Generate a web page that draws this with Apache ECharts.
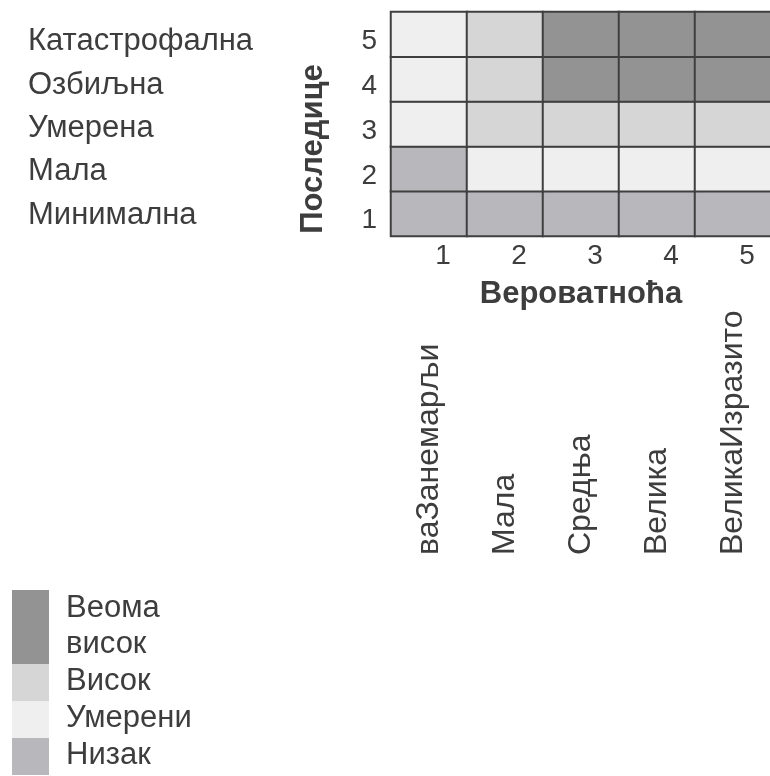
<!DOCTYPE html>
<html><head><meta charset="utf-8">
<script src="https://cdn.jsdelivr.net/npm/echarts@6/dist/echarts.min.js"></script>
<style>html,body{margin:0;padding:0;background:#fff}#c{width:770px;height:776px}</style>
</head><body><div id="c"></div>
<script>
const probability = ['1', '2', '3', '4', '5'];
const consequence = ['1', '2', '3', '4', '5'];
const consequenceNames = ['Минимална', 'Мала', 'Умерена', 'Озбиљна', 'Катастрофална'];
const probabilityNames = ['ваЗанемарљи', 'Мала', 'Средња', 'Велика', 'ВеликаИзразито'];
const levels = ['Низак', 'Умерени', 'Висок', 'Веома висок'];
const levelColors = ['#b8b7bc', '#efefef', '#d6d6d6', '#939393'];
// risk level per cell (index into levels), consequence 1 (bottom) .. 5 (top), probability 1..5
const riskRow1 = [0, 0, 0, 0, 0];
const riskRow2 = [0, 1, 1, 1, 1];
const riskRow3 = [1, 2, 2, 2, 2];
const riskRow4 = [1, 2, 3, 3, 3];
const riskRow5 = [1, 2, 3, 3, 3];
const legendLabels = ['Веома\nвисок', 'Висок', 'Умерени', 'Низак'];
const legendLevels = [3, 2, 1, 0];

const FONT = '"Liberation Sans", Arial, sans-serif';
const TXT = '#3d3d3d';
const rows = [riskRow1, riskRow2, riskRow3, riskRow4, riskRow5];
const data = [];
rows.forEach((row, r) => row.forEach((lvl, c) => data.push([c, r, lvl])));

const graphic = [];
let gy = 590;
legendLabels.forEach((lab, i) => {
  const h = lab.split('\n').length * 37;
  graphic.push({type: 'rect', shape: {x: 12, y: gy, width: 37, height: h},
    style: {fill: levelColors[legendLevels[i]]}, silent: true});
  graphic.push({type: 'text', x: 66, y: gy + h / 2 - 1,
    style: {text: lab, fontSize: 31, fontFamily: FONT, fill: TXT,
      verticalAlign: 'middle', textVerticalAlign: 'middle', lineHeight: 36}, silent: true});
  gy += h;
});

const chart = echarts.init(document.getElementById('c'), null, {renderer: 'canvas'});
chart.setOption({
  animation: false,
  backgroundColor: '#fff',
  textStyle: {fontFamily: FONT},
  grid: [
    {left: 391, top: 12, width: 380, height: 224, containLabel: false, outerBoundsMode: 'none'},
    {left: 391, top: 557, width: 380, height: 1, containLabel: false, outerBoundsMode: 'none'},
    {left: 391, top: 20, width: 380, height: 217, containLabel: false, outerBoundsMode: 'none'}
  ],
  xAxis: [
    {gridIndex: 0, type: 'category', data: probability, position: 'bottom',
      axisLine: {show: false}, axisTick: {show: false}, splitLine: {show: false},
      axisLabel: {fontSize: 28, color: TXT, margin: 6, padding: [0, 0, 0, 28], fontFamily: FONT},
      name: 'Вероватноћа', nameLocation: 'middle', nameGap: 43,
      nameTextStyle: {fontSize: 31, fontWeight: 'bold', color: TXT, fontFamily: FONT}},
    {gridIndex: 1, type: 'category', data: probabilityNames, position: 'top',
      axisLine: {show: false}, axisTick: {show: false}, splitLine: {show: false},
      axisLabel: {rotate: 90, fontSize: 32, color: TXT, margin: 2, fontFamily: FONT}},
    {gridIndex: 2, type: 'value', show: false}
  ],
  yAxis: [
    {gridIndex: 0, type: 'category', data: consequence, position: 'left',
      axisLine: {show: false}, axisTick: {show: false}, splitLine: {show: false},
      axisLabel: {fontSize: 28, color: TXT, margin: 14, verticalAlign: 'top', lineHeight: 14, fontFamily: FONT},
      name: 'Последице', nameLocation: 'middle', nameRotate: 90, nameGap: 62,
      nameTextStyle: {fontSize: 31, fontWeight: 'bold', color: TXT, padding: [0, 50, 0, 0], fontFamily: FONT}},
    {gridIndex: 1, type: 'value', show: false},
    {gridIndex: 2, type: 'category', data: consequenceNames, position: 'left',
      axisLine: {show: false}, axisTick: {show: false}, splitLine: {show: false},
      axisLabel: {align: 'left', margin: 363, fontSize: 31, color: TXT, fontFamily: FONT}}
  ],
  visualMap: {type: 'piecewise', show: false, dimension: 2, seriesIndex: 0,
    pieces: levels.map((l, i) => ({value: i, color: levelColors[i], label: l}))},
  series: [{
    type: 'heatmap', xAxisIndex: 0, yAxisIndex: 0, data: data,
    itemStyle: {borderColor: '#3f3f3f', borderWidth: 2},
    emphasis: {disabled: true}
  }],
  graphic: graphic
});
</script></body></html>
